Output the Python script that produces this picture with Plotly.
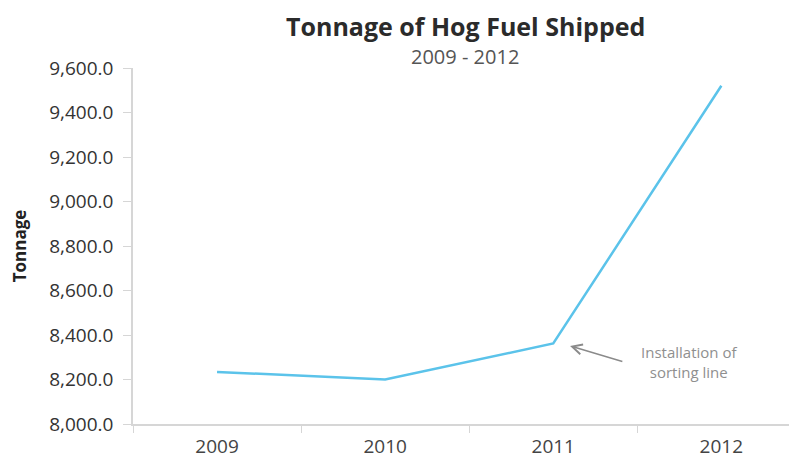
import plotly.graph_objects as go

years = ["2009", "2010", "2011", "2012"]
tonnage = [8234, 8200, 8362, 9520]
y_ticks = [8000, 8200, 8400, 8600, 8800, 9000, 9200, 9400, 9600]

FONT = "'Open Sans', Lato, sans-serif"
fig = go.Figure()
fig.add_trace(go.Scatter(x=years, y=tonnage, mode="lines",
                         line=dict(color="#5BC3EA", width=2.5), showlegend=False))

fig.update_layout(
    width=789, height=454,
    margin=dict(l=125, r=0, t=60, b=38),
    paper_bgcolor="white", plot_bgcolor="white",
    font=dict(family=FONT, color="#333333"),
    annotations=[
        dict(text="<b>Tonnage of Hog Fuel Shipped</b>", xref="paper", yref="paper",
             x=0.5, y=1, yanchor="middle", yshift=42, showarrow=False,
             font=dict(size=25, color="#2b2b2b")),
        dict(text="2009 - 2012", xref="paper", yref="paper",
             x=0.5, y=1, yanchor="middle", yshift=12, showarrow=False,
             font=dict(size=20, color="#555555")),
        dict(text="Installation of<br>sorting line", x=2.81, y=8279, xref="x", yref="y",
             showarrow=False, align="center", font=dict(size=15, color="#8f8f8f")),
        dict(x=2.10, y=8351, xref="x", yref="y", ax=2.42, ay=8279, axref="x", ayref="y",
             showarrow=True, arrowhead=5, arrowsize=1.4, arrowwidth=1.4,
             arrowcolor="#8a8a8a", text=""),
    ],
)
fig.update_xaxes(
    type="category", range=[-0.5, 3.45], tickson="boundaries", automargin=False,
    showline=True, linecolor="#d6d6d6", linewidth=1.5,
    ticks="outside", ticklen=7, tickcolor="#d6d6d6", ticklabelstandoff=4,
    tickfont=dict(size=19, color="#444444"), showgrid=False, zeroline=False,
)
fig.update_yaxes(
    range=[8000, 9600], tickvals=y_ticks, tickformat=",.1f", automargin=False,
    showline=True, linecolor="#d6d6d6", linewidth=1.5,
    ticks="outside", ticklen=8, tickcolor="#d6d6d6", ticklabelstandoff=6,
    tickfont=dict(size=19, color="#333333"), showgrid=False, zeroline=False,
    title=dict(text="<b>Tonnage</b>", font=dict(size=17, color="#222222"), standoff=18),
)
fig.write_html("out.html")
